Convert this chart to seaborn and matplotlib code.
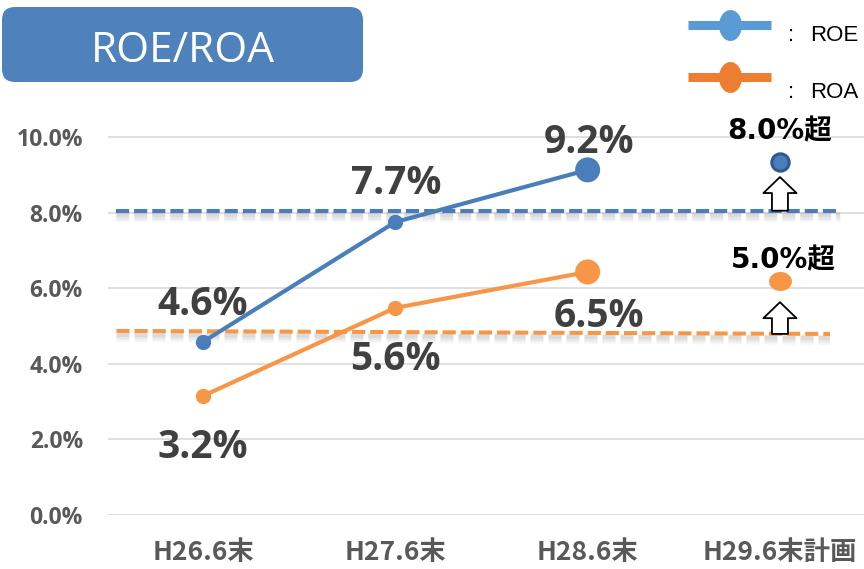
import numpy as np
import pandas as pd
import matplotlib
matplotlib.use("Agg")
import matplotlib.pyplot as plt
import matplotlib.transforms as mtransforms
import seaborn as sns
from matplotlib.lines import Line2D
from matplotlib.patches import FancyBboxPatch
from matplotlib.path import Path

# ---------------- data ----------------
categories = ["H26.6末", "H27.6末", "H28.6末", "H29.6末計画"]
roe_values = [4.58, 7.75, 9.13]
roa_values = [3.15, 5.48, 6.43]
roe_labels = ["4.6%", "7.7%", "9.2%"]
roa_labels = ["3.2%", "5.6%", "6.5%"]
plan_roe = 9.34
plan_roa = 6.20
plan_labels = ["8.0%超", "5.0%超"]
roe_target = [8.05, 8.05]
roa_target = [4.87, 4.79]
yticks = [0, 2, 4, 6, 8, 10]
ytick_labels = ["0.0%", "2.0%", "4.0%", "6.0%", "8.0%", "10.0%"]
legend_names = ["ROE", "ROA"]

# ---------------- style ----------------
sns.set_theme(style="white")
plt.rcParams["font.family"] = ["Open Sans", "Noto Sans CJK JP", "DejaVu Sans"]

C_ROE = "#4a7ebb"
C_ROA = "#f79646"
C_ROE_LEG = "#5b9bd5"
C_ROA_LEG = "#ed7d31"
C_LABEL = "#404040"
C_TICK = "#595959"

W, H = 864, 569
fig = plt.figure(figsize=(W / 100, H / 100), dpi=100)
ax = fig.add_axes([108 / W, (H - 515) / H, 1 - 108 / W, (515 - 80.3) / H])

n_act = len(roe_values)
df = pd.DataFrame({
    "pos": list(range(n_act)) * 2,
    "value": roe_values + roa_values,
    "series": ["ROE"] * n_act + ["ROA"] * n_act,
})

sns.lineplot(data=df, x="pos", y="value", hue="series",
             palette={"ROE": C_ROE, "ROA": C_ROA}, linewidth=3.0,
             marker="o", markersize=11, markeredgewidth=0, legend=False,
             ax=ax, zorder=4)
last = df[df["pos"] == n_act - 1]
sns.scatterplot(data=last, x="pos", y="value", hue="series",
                palette={"ROE": C_ROE, "ROA": C_ROA}, s=18 ** 2,
                linewidth=0, legend=False, ax=ax, zorder=5)

# target dashed lines with soft shadow
x_line_roe = [-0.45, 3.31]
x_line_roa = [-0.45, 3.26]
for xs, ys, c in [(x_line_roe, roe_target, C_ROE), (x_line_roa, roa_target, C_ROA)]:
    for off, lw, a in [(-6, 7, 0.07), (-5, 5, 0.10), (-4, 3, 0.12)]:
        tr = mtransforms.offset_copy(ax.transData, fig=fig, x=0, y=off, units="dots")
        ax.plot(xs, ys, color="#7f7f7f", lw=lw, alpha=a,
                dashes=(13 * 0.72 / lw, 5 * 0.72 / lw),
                transform=tr, zorder=2)
    ax.plot(xs, ys, color=c, lw=2.9, dashes=(3.25, 1.25), zorder=3)

# plan markers
t = np.linspace(0, 2 * np.pi, 60)
ell_wide = Path(np.column_stack([np.cos(t), 0.83 * np.sin(t)]))
ell_tall = Path(np.column_stack([0.74 * np.cos(t), np.sin(t)]))
plan_x = len(categories) - 1
ax.plot([plan_x], [plan_roe], marker="o", markersize=12.5, color=C_ROE,
        markeredgecolor="#2e5a8e", markeredgewidth=2.2, zorder=6, linestyle="none")
ax.plot([plan_x], [plan_roa], marker=ell_wide, markersize=16.5, color=C_ROA,
        markeredgewidth=0, zorder=6, linestyle="none")

# hollow up arrows from target to plan
arrow_style = "simple,head_length=11.5,head_width=23.8,tail_width=11.5"
arrow_gap = [0.40, 0.57]
for tgt, plan, gap in [(roe_target[-1], plan_roe, arrow_gap[0]),
                       (roa_target[-1], plan_roa, arrow_gap[1])]:
    ax.annotate("", xy=(plan_x, plan - gap), xytext=(plan_x, tgt),
                arrowprops=dict(arrowstyle=arrow_style, mutation_scale=1,
                                fc="white", ec="black", lw=1.3,
                                shrinkA=0, shrinkB=0), zorder=5)

# value labels
roe_off = [(0, 42), (1, 43), (1, 32)]
roa_off = [(0, -47), (0, -47), (11, -40)]
for vals, labs, offs in [(roe_values, roe_labels, roe_off), (roa_values, roa_labels, roa_off)]:
    for i, (v, lab, o) in enumerate(zip(vals, labs, offs)):
        ax.annotate(lab, xy=(i, v), xytext=o, textcoords="offset pixels",
                    ha="center", va="center_baseline", fontsize=28,
                    fontweight="bold", color=C_LABEL, zorder=7,
                    family=["Open Sans", "DejaVu Sans"])

# plan labels
for v, lab, o in [(plan_roe, plan_labels[0], (0, 34)), (plan_roa, plan_labels[1], (3, 23))]:
    ax.annotate(lab, xy=(plan_x, v), xytext=o, textcoords="offset pixels",
                ha="center", va="center_baseline", fontsize=20,
                fontweight="bold", color="black", zorder=7,
                family=["DejaVu Sans", "Noto Sans CJK JP"])

# axes
ax.set_xlim(-0.494, 3.437)
ax.set_ylim(0, 11.5)
ax.set_yticks(yticks)
ax.set_yticklabels(ytick_labels, fontsize=16.5, fontweight="bold", color=C_TICK,
                   family=["Open Sans", "DejaVu Sans"])
ax.set_xticks(range(len(categories)))
ax.set_xticklabels(categories, fontsize=19, fontweight="bold", color=C_TICK,
                   family=["Noto Sans CJK JP", "DejaVu Sans"])
ax.tick_params(axis="y", length=0, pad=18)
ax.tick_params(axis="x", length=0, pad=17)
ax.set_xlabel("")
ax.set_ylabel("")
for s in ax.spines.values():
    s.set_visible(False)
ax.grid(axis="y", color="#d9d9d9", lw=1.2)
ax.grid(axis="x", visible=False)
ax.set_axisbelow(True)

# title box (inches coordinates)
it = fig.dpi_scale_trans
box = FancyBboxPatch((0.02, (H - 82) / 100), 3.61, 0.75,
                     boxstyle="round,pad=0,rounding_size=0.13",
                     fc="#4f81bd", ec="none", transform=it)
fig.add_artist(box)
fig.text(1.825, (H - 46) / 100, "ROE/ROA", transform=it, ha="center",
         va="center_baseline", color="white", fontsize=30.5,
         family=["Open Sans", "DejaVu Sans"])

# legend
for yy, ty, c, lab in [(25, 33, C_ROE_LEG, legend_names[0]), (77, 90, C_ROA_LEG, legend_names[1])]:
    fig.add_artist(Line2D([6.88, 7.71], [(H - yy) / 100] * 2, color=c, lw=6.5,
                          transform=it, solid_capstyle="butt"))
    fig.add_artist(Line2D([7.295], [(H - yy) / 100], marker=ell_tall, markersize=22.3,
                          color=c, markeredgewidth=0, transform=it))
    fig.text(7.88, (H - ty) / 100, ":", transform=it, ha="left", va="center_baseline",
             fontsize=16, color="black", family=["Liberation Sans", "DejaVu Sans"])
    fig.text(8.105, (H - ty) / 100, lab, transform=it, ha="left", va="center_baseline",
             fontsize=16, color="black", family=["Liberation Sans", "DejaVu Sans"])

fig.savefig("out.png", dpi=100)
